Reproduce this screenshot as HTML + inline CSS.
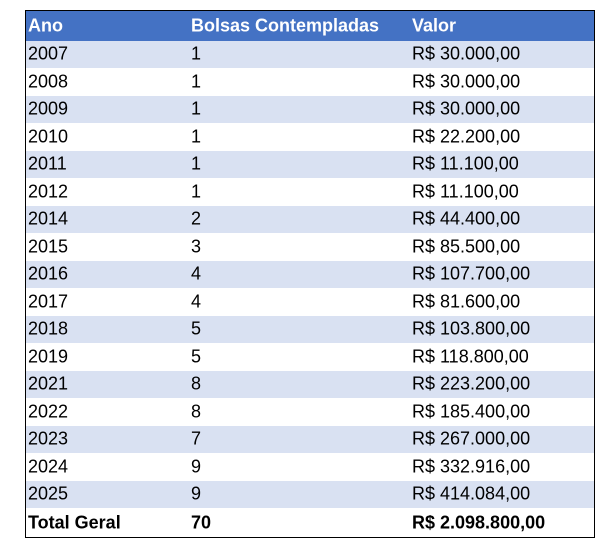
<!DOCTYPE html>
<html><head><style>
body{margin:0;background:#fff;width:610px;height:548px;position:relative;font-family:"Liberation Sans",Arial,sans-serif;}
.t{position:absolute;left:25px;top:10px;width:568px;border:1px solid #000;box-sizing:content-box;}
.r{height:27.5px;position:relative;font-size:18px;color:#000;}
.r span{position:absolute;top:50%;transform:translateY(-50%);white-space:nowrap;}
.a{left:2px}.b{left:165px}.c{left:386px}
.h{height:29.5px;background:#4472C4;color:#fff;font-weight:bold;}
.s{background:#D9E1F2;}
.tot{height:29px;font-weight:bold;}
</style></head><body>
<div class="t">
<div class="r h"><span class="a">Ano</span><span class="b">Bolsas Contempladas</span><span class="c">Valor</span></div>
<div class="r s"><span class="a">2007</span><span class="b">1</span><span class="c">R$ 30.000,00</span></div>
<div class="r"><span class="a">2008</span><span class="b">1</span><span class="c">R$ 30.000,00</span></div>
<div class="r s"><span class="a">2009</span><span class="b">1</span><span class="c">R$ 30.000,00</span></div>
<div class="r"><span class="a">2010</span><span class="b">1</span><span class="c">R$ 22.200,00</span></div>
<div class="r s"><span class="a">2011</span><span class="b">1</span><span class="c">R$ 11.100,00</span></div>
<div class="r"><span class="a">2012</span><span class="b">1</span><span class="c">R$ 11.100,00</span></div>
<div class="r s"><span class="a">2014</span><span class="b">2</span><span class="c">R$ 44.400,00</span></div>
<div class="r"><span class="a">2015</span><span class="b">3</span><span class="c">R$ 85.500,00</span></div>
<div class="r s"><span class="a">2016</span><span class="b">4</span><span class="c">R$ 107.700,00</span></div>
<div class="r"><span class="a">2017</span><span class="b">4</span><span class="c">R$ 81.600,00</span></div>
<div class="r s"><span class="a">2018</span><span class="b">5</span><span class="c">R$ 103.800,00</span></div>
<div class="r"><span class="a">2019</span><span class="b">5</span><span class="c">R$ 118.800,00</span></div>
<div class="r s"><span class="a">2021</span><span class="b">8</span><span class="c">R$ 223.200,00</span></div>
<div class="r"><span class="a">2022</span><span class="b">8</span><span class="c">R$ 185.400,00</span></div>
<div class="r s"><span class="a">2023</span><span class="b">7</span><span class="c">R$ 267.000,00</span></div>
<div class="r"><span class="a">2024</span><span class="b">9</span><span class="c">R$ 332.916,00</span></div>
<div class="r s"><span class="a">2025</span><span class="b">9</span><span class="c">R$ 414.084,00</span></div>
<div class="r tot"><span class="a">Total Geral</span><span class="b">70</span><span class="c">R$ 2.098.800,00</span></div>
</div>
</body></html>
